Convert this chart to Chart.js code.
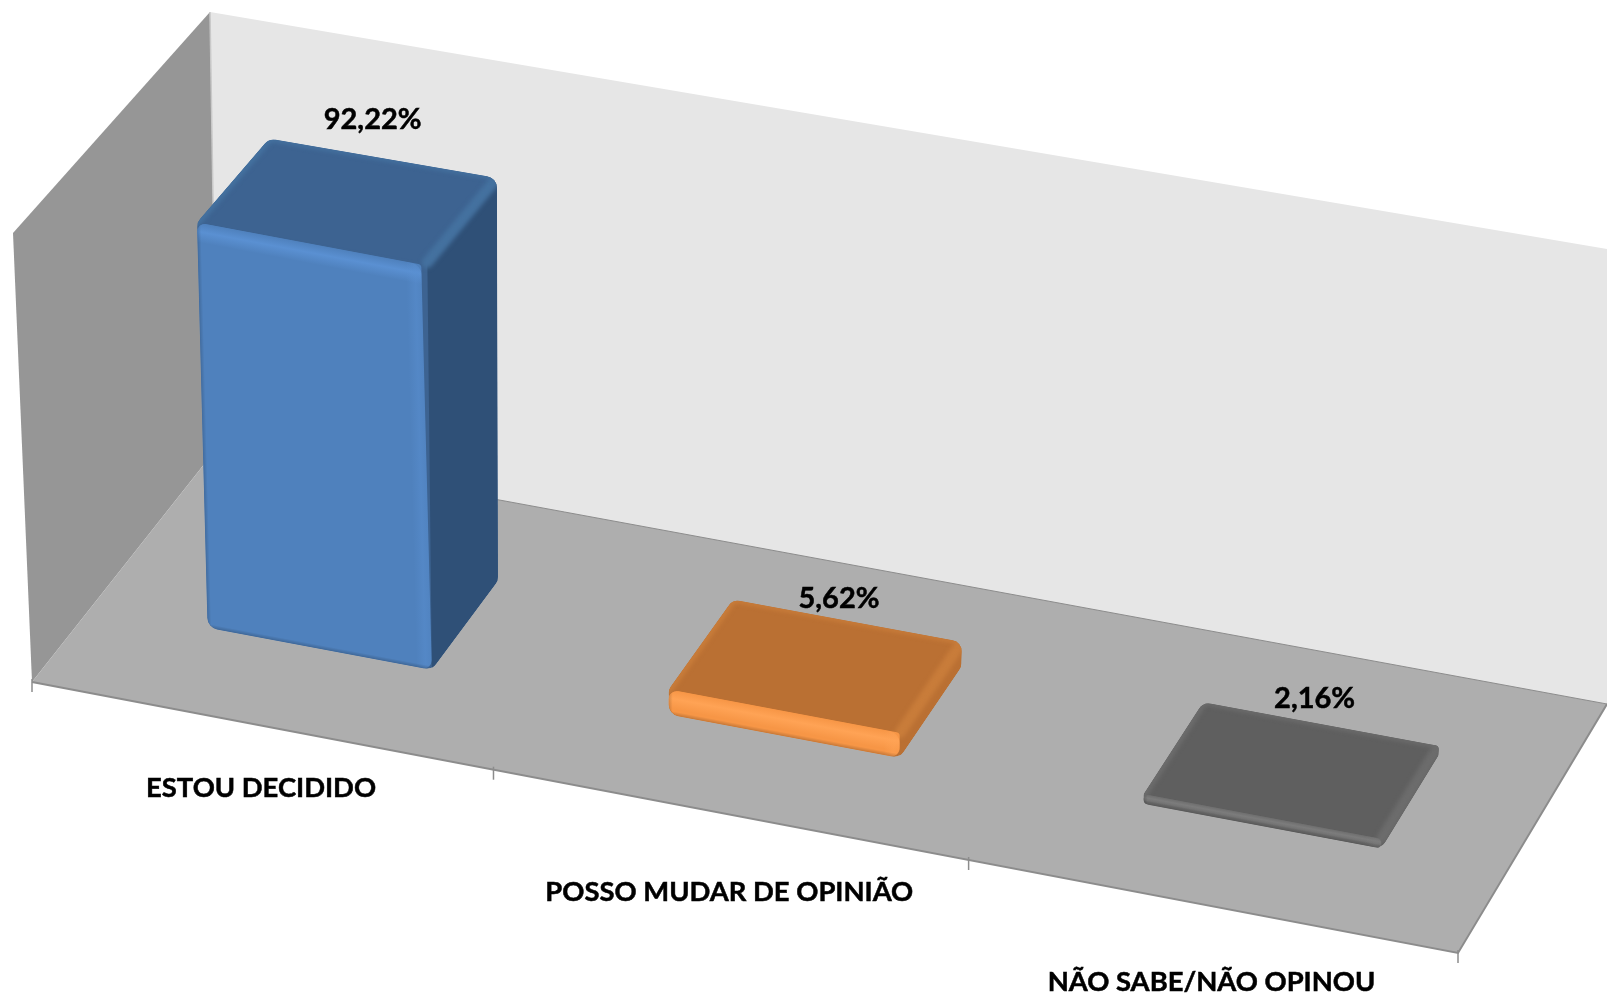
<!DOCTYPE html>
<html lang="pt"><head><meta charset="utf-8">
<style>html,body{margin:0;padding:0;background:#fff}canvas{display:block}</style>
<script src="https://cdn.jsdelivr.net/npm/chart.js@4"></script></head>
<body><canvas id="c" width="1607" height="997"></canvas>
<script>
const categories = ['ESTOU DECIDIDO', 'POSSO MUDAR DE OPINIÃO', 'NÃO SABE/NÃO OPINOU'];
const values = [92.22, 5.62, 2.16];
const valueLabels = ['92,22%', '5,62%', '2,16%'];
const frontColors = ['#4F81BD', '#F79646', '#6E6E6E'];
const lightColors = ['#5A90D2', '#FFA355', '#7C7C7C'];
const topColors   = ['#3D6391', '#BA7033', '#5F5F5F'];
const sideColors  = ['#2F5077', '#BA7033', '#5F5F5F'];
const bevelColors = ['#44719F', '#C87C3A', '#6C6C6C'];
// label placement relative to the projected bar / band
const valueDX = [-10, -8, -6], valueDY = [-39, -22, -25];
const catDX = [0, 0, 0], catDY = [63, 78, 76];

// cube corners of the 3D scene: [front/back][bottom/top][left/right]
const C = {
  fbl:[32,682], fbr:[1458,953], bbl:[217,448], bbr:[1607,704],
  ftl:[13,233], ftr:[1484,488], btl:[210,12],  btr:[1637,254]
};
const PERSP = 1.045, BAR_D0 = 0.325, BAR_D1 = 0.70;
const lerp=(a,b,t)=>[a[0]+(b[0]-a[0])*t,a[1]+(b[1]-a[1])*t];
function project(u,h,d){
  const U=u/(u+(1-u)*PERSP);
  const fb=lerp(C.fbl,C.fbr,U), ft=lerp(C.ftl,C.ftr,U), bb=lerp(C.bbl,C.bbr,U), bt=lerp(C.btl,C.btr,U);
  return lerp(lerp(fb,ft,h),lerp(bb,bt,h),d);
}
function poly(ctx,pts){ctx.beginPath();pts.forEach((p,i)=>i?ctx.lineTo(p[0],p[1]):ctx.moveTo(p[0],p[1]));ctx.closePath();}
function roundPoly(ctx,pts,r){
  const n=pts.length;const m=lerp(pts[n-1],pts[0],.5);
  const len=(a,b)=>Math.hypot(a[0]-b[0],a[1]-b[1]);
  ctx.beginPath();ctx.moveTo(m[0],m[1]);
  for(let i=0;i<n;i++){
    const a=pts[i],b=pts[(i+1)%n],z=pts[(i+n-1)%n];
    ctx.arcTo(a[0],a[1],b[0],b[1],Math.min(r,len(a,b)*0.45,len(a,z)*0.45));
  }
  ctx.closePath();
}
const scene = {
  id:'scene3d',
  beforeDatasetsDraw(chart){
    const ctx=chart.ctx;
    ctx.save();
    ctx.fillStyle='#fff';ctx.fillRect(0,0,chart.width,chart.height);
    ctx.fillStyle='#E6E6E6';poly(ctx,[C.btl,C.btr,C.bbr,C.bbl]);ctx.fill();
    ctx.fillStyle='#969696';poly(ctx,[C.ftl,C.btl,C.bbl,C.fbl]);ctx.fill();
    ctx.strokeStyle='#C9C9C9';ctx.lineWidth=1.5;ctx.beginPath();ctx.moveTo(...C.btl);ctx.lineTo(...C.bbl);ctx.stroke();
    ctx.fillStyle='#AEAEAE';poly(ctx,[C.fbl,C.fbr,C.bbr,C.bbl]);ctx.fill();
    ctx.strokeStyle='#8C8C8C';ctx.lineWidth=2;
    ctx.beginPath();ctx.moveTo(...C.bbr);ctx.lineTo(...C.fbr);ctx.lineTo(...C.fbl);ctx.stroke();
    ctx.lineWidth=1;ctx.beginPath();ctx.moveTo(...C.bbl);ctx.lineTo(...C.bbr);ctx.stroke();
    // category ticks
    const xs=chart.scales.x,a=chart.chartArea;ctx.lineWidth=1.5;
    for(let i=0;i<=categories.length;i++){
      const u=(xs.getPixelForValue(i-0.5)-a.left)/a.width;const p=project(u,0,0);
      ctx.beginPath();ctx.moveTo(p[0],p[1]-3);ctx.lineTo(p[0],p[1]+10);ctx.stroke();
    }
    ctx.restore();
  },
  beforeDatasetDraw(chart,args){
    const ctx=chart.ctx,a=chart.chartArea,meta=args.meta;
    const U=x=>(x-a.left)/a.width,H=y=>(a.bottom-y)/a.height;
    const boldText=(s,x,y)=>{ctx.lineWidth=0.5;ctx.strokeStyle='#000';ctx.fillText(s,x,y);ctx.strokeText(s,x,y);};
    meta.data.forEach((el,i)=>{
      const p=el.getProps(['x','y','base','width'],true);
      const l=p.x-p.width/2,r=p.x+p.width/2;
      const u0=U(l),u1=U(r),h1=H(p.y),h0=H(p.base);
      const fbl=project(u0,h0,BAR_D0),fbr=project(u1,h0,BAR_D0),ftl=project(u0,h1,BAR_D0),ftr=project(u1,h1,BAR_D0);
      const bbr=project(u1,h0,BAR_D1),btl=project(u0,h1,BAR_D1),btr=project(u1,h1,BAR_D1);
      const hex=[ftl,btl,btr,bbr,fbr,fbl];
      ctx.save();
      roundPoly(ctx,hex,12);ctx.clip();
      ctx.fillStyle=topColors[i];ctx.fill();
      ctx.fillStyle=topColors[i];poly(ctx,[ftl,btl,btr,ftr]);ctx.fill();
      ctx.fillStyle=sideColors[i];poly(ctx,[ftr,btr,bbr,fbr]);ctx.fill();
      // bevel along the top face's right and left edges
      ctx.save();ctx.filter='blur(2px)';ctx.strokeStyle=bevelColors[i];ctx.lineCap='round';
      ctx.lineWidth=11;ctx.beginPath();ctx.moveTo(...ftr);ctx.lineTo(...btr);ctx.stroke();
      ctx.lineWidth=8;ctx.beginPath();ctx.moveTo(...ftl);ctx.lineTo(...btl);ctx.stroke();
      ctx.lineWidth=5;ctx.beginPath();ctx.moveTo(...btl);ctx.lineTo(...btr);ctx.stroke();
      ctx.restore();
      ctx.restore();
      // the front face: the library's own bar element under a local affine map
      ctx.save();
      const w=r-l,hh=p.y-p.base;
      const A=(fbr[0]-fbl[0])/w,B=(fbr[1]-fbl[1])/w,Cc=(ftl[0]-fbl[0])/hh,D=(ftl[1]-fbl[1])/hh;
      ctx.transform(A,B,Cc,D,fbl[0]-A*l-Cc*p.base,fbl[1]-B*l-D*p.base);
      el.draw(ctx,a);
      // front-face highlights
      const R=Math.min(10,Math.abs(hh)/2);
      ctx.beginPath();ctx.roundRect(l,p.y,w,p.base-p.y,R);ctx.clip();
      const band=Math.min(20,Math.abs(hh)*0.75);
      let g=ctx.createLinearGradient(0,p.y,0,p.y+band);
      g.addColorStop(0,frontColors[i]);g.addColorStop(.45,lightColors[i]);g.addColorStop(1,lightColors[i]+'00');
      ctx.fillStyle=g;ctx.fillRect(l,p.y,w,band);
      g=ctx.createLinearGradient(r-16,0,r,0);
      g.addColorStop(0,lightColors[i]+'00');g.addColorStop(.6,lightColors[i]+'70');g.addColorStop(1,lightColors[i]+'30');
      ctx.fillStyle=g;ctx.fillRect(r-16,p.y,16,p.base-p.y);
      // soft dark rim at the left and bottom
      g=ctx.createLinearGradient(l,0,l+4,0);g.addColorStop(0,'rgba(0,0,0,.16)');g.addColorStop(1,'rgba(0,0,0,0)');
      ctx.fillStyle=g;ctx.fillRect(l,p.y,4,p.base-p.y);
      g=ctx.createLinearGradient(0,p.base,0,p.base-4);g.addColorStop(0,'rgba(0,0,0,.2)');g.addColorStop(1,'rgba(0,0,0,0)');
      ctx.fillStyle=g;ctx.fillRect(l,p.base-4,w,4);
      ctx.restore();
      // value label
      const t=project((u0+u1)/2,h1,BAR_D1);
      ctx.save();ctx.font='bold 29px Lato';ctx.fillStyle='#000';ctx.textAlign='center';ctx.textBaseline='middle';
      boldText(valueLabels[i],t[0]+valueDX[i],t[1]+valueDY[i]);ctx.restore();
    });
    // category labels
    ctx.save();ctx.font='bold 27.4px Lato';ctx.fillStyle='#000';ctx.textAlign='center';ctx.textBaseline='middle';
    categories.forEach((c,i)=>{
      const q=project(U(chart.scales.x.getPixelForValue(i)),0,0);
      boldText(c,q[0]+catDX[i],q[1]+catDY[i]);
    });
    ctx.restore();
    return false;
  }
};
new Chart(document.getElementById('c'),{
  type:'bar',
  data:{labels:categories,datasets:[{data:values,backgroundColor:frontColors,borderWidth:0,borderSkipped:false,
    barPercentage:0.49,categoryPercentage:1,
    borderRadius:{topLeft:10,topRight:3,bottomLeft:10,bottomRight:10}}]},
  options:{responsive:false,animation:false,devicePixelRatio:1,
    layout:{padding:{left:32,right:149,top:233,bottom:315}},
    plugins:{legend:{display:false},tooltip:{enabled:false},title:{display:false}},
    scales:{x:{display:false,type:'category'},y:{display:false,min:0,max:101.5}}},
  plugins:[scene]
});
</script></body></html>
